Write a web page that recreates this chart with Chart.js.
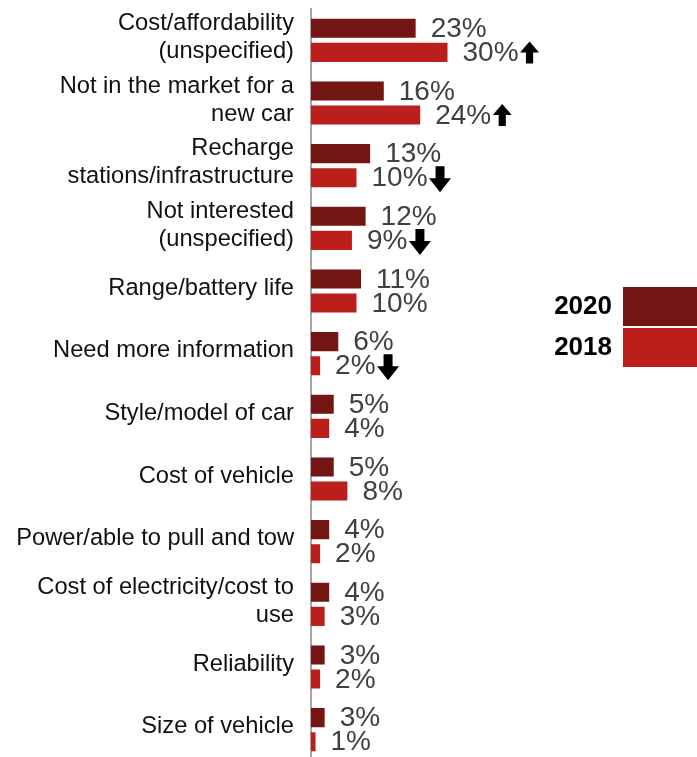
<!DOCTYPE html>
<html>
<head>
<meta charset="utf-8">
<script src="https://cdn.jsdelivr.net/npm/chart.js@4/dist/chart.umd.min.js"></script>
<style>
  html, body { margin: 0; padding: 0; background: #fff; overflow: hidden; }
  #wrap { width: 697px; height: 761px; position: relative; }
</style>
</head>
<body>
<div id="wrap"><canvas id="reasonsChart"></canvas></div>
<script>
const categories = [
    ['Cost/affordability', '(unspecified)'],
    ['Not in the market for a', 'new car'],
    ['Recharge', 'stations/infrastructure'],
    ['Not interested', '(unspecified)'],
    'Range/battery life',
    'Need more information',
    'Style/model of car',
    'Cost of vehicle',
    'Power/able to pull and tow',
    ['Cost of electricity/cost to', 'use'],
    'Reliability',
    'Size of vehicle'
];
const values2020 = [23, 16, 13, 12, 11, 6, 5, 5, 4, 4, 3, 3];
const values2018 = [30, 24, 10, 9, 10, 2, 4, 8, 2, 3, 2, 1];
// significant change markers shown next to the 2018 values
const change2018 = ['up', 'up', 'down', 'down', null, 'down', null, null, null, null, null, null];

const FONT = '"Liberation Sans", Arial, sans-serif';
const colors = { y2020: '#731512', y2018: '#BA1F1C' };

// arrow shapes: up arrows are a little smaller than the down ones
const arrowShape = {
    up:   { halfW: 9.5, height: 22, headH: 11, shaft: 3.6, dy: 0 },
    down: { halfW: 11,  height: 26, headH: 14, shaft: 4.5, dy: 1.5 }
};

function drawArrow(ctx, x, cy, dir) {
    const a = arrowShape[dir];
    const cx = x + a.halfW;
    const s = dir === 'up' ? 1 : -1;
    const mid = cy + a.dy;
    const tip = mid - s * a.height / 2;
    const base = mid + s * a.height / 2;
    const neck = tip + s * a.headH;
    ctx.beginPath();
    ctx.moveTo(cx, tip);
    ctx.lineTo(cx + a.halfW, neck);
    ctx.lineTo(cx + a.shaft, neck);
    ctx.lineTo(cx + a.shaft, base);
    ctx.lineTo(cx - a.shaft, base);
    ctx.lineTo(cx - a.shaft, neck);
    ctx.lineTo(cx - a.halfW, neck);
    ctx.closePath();
    ctx.fillStyle = '#000';
    ctx.fill();
}

const valueLabels = {
    id: 'valueLabels',
    afterDatasetsDraw(chart) {
        const ctx = chart.ctx;
        ctx.save();
        ctx.font = '28px ' + FONT;
        ctx.textBaseline = 'middle';
        ctx.textAlign = 'left';
        chart.data.datasets.forEach((ds, di) => {
            chart.getDatasetMeta(di).data.forEach((bar, i) => {
                const text = ds.data[i] + '%';
                const x = bar.x + 15;
                ctx.fillStyle = '#404040';
                ctx.fillText(text, x, bar.y + 1);
                const dir = ds.arrows ? ds.arrows[i] : null;
                if (dir) {
                    const w = ctx.measureText(text).width;
                    drawArrow(ctx, x + w + 1.5, bar.y, dir);
                }
            });
        });
        ctx.restore();
    }
};

const sideLegend = {
    id: 'sideLegend',
    afterDraw(chart) {
        const ctx = chart.ctx;
        ctx.save();
        ctx.font = 'bold 26px ' + FONT;
        ctx.textAlign = 'right';
        ctx.textBaseline = 'middle';
        chart.data.datasets.forEach((ds, i) => {
            const top = 287 + i * 41;
            ctx.fillStyle = ds.backgroundColor;
            ctx.fillRect(623, top, 74, 39);
            ctx.fillStyle = '#000';
            ctx.fillText(ds.label, 612, top + 20);
        });
        ctx.restore();
    }
};

const ctx = document.getElementById('reasonsChart').getContext('2d');
new Chart(ctx, {
    type: 'bar',
    data: {
        labels: categories,
        datasets: [
            { label: '2020', data: values2020, backgroundColor: colors.y2020 },
            { label: '2018', data: values2018, backgroundColor: colors.y2018, arrows: change2018 }
        ]
    },
    options: {
        indexAxis: 'y',
        responsive: true,
        maintainAspectRatio: false,
        animation: false,
        events: [],
        layout: { padding: { top: 9, bottom: 0, left: 0, right: 158.5 } },
        datasets: { bar: { categoryPercentage: 0.77, barPercentage: 0.79 } },
        scales: {
            x: { display: false, min: 0, max: 50 },
            y: {
                grid: { display: false, drawTicks: false },
                border: { display: true, color: '#A6A6A6', width: 2 },
                ticks: {
                    color: '#111',
                    padding: 17,
                    labelOffset: -3,
                    font: { family: FONT, size: 23.7, lineHeight: 1.18 }
                },
                afterFit(scale) {
                    scale.width = 311;
                    scale.paddingTop = 0;
                    scale.paddingBottom = 0;
                }
            }
        },
        plugins: {
            legend: { display: false },
            tooltip: { enabled: false }
        }
    },
    plugins: [valueLabels, sideLegend]
});
</script>
</body>
</html>
